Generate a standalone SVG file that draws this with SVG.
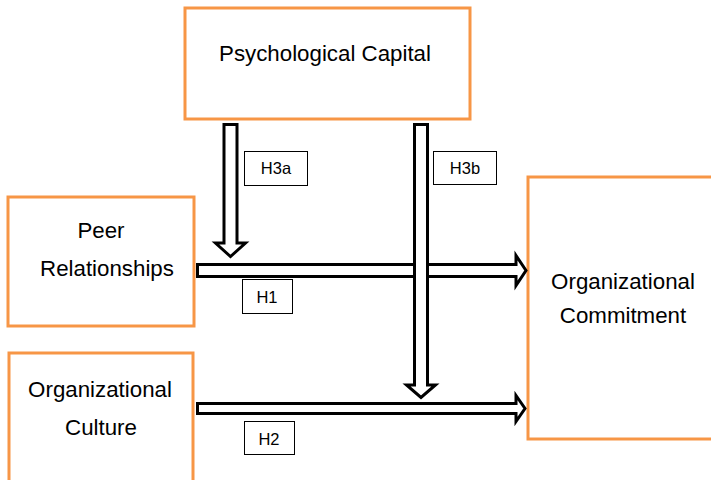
<svg xmlns="http://www.w3.org/2000/svg" width="711" height="480" viewBox="0 0 711 480">
<style>
.node{fill:#fff;stroke:#F79646;stroke-width:3}
.lbl{fill:#fff;stroke:#000;stroke-width:1}
.arr{fill:#fff;stroke:#000;stroke-width:3;stroke-linejoin:miter}
text{font-family:"Liberation Sans",Arial,sans-serif;fill:#000;text-anchor:middle}
.big{font-size:22.3px}
.sm{font-size:16.5px}
</style>
<rect width="711" height="480" fill="#fff"/>
<g id="psychological-capital">
<rect class="node" x="185" y="8" width="285" height="111"/>
<text class="big" x="325" y="61">Psychological Capital</text>
</g>
<g id="peer-relationships">
<rect class="node" x="8" y="197" width="186" height="129"/>
<text class="big" x="101" y="238">Peer</text>
<text class="big" x="107" y="276">Relationships</text>
</g>
<g id="organizational-culture">
<rect class="node" x="9" y="353" width="184" height="140"/>
<text class="big" x="100" y="397">Organizational</text>
<text class="big" x="101" y="435">Culture</text>
</g>
<g id="organizational-commitment">
<rect class="node" x="528" y="177" width="190" height="262"/>
<text class="big" x="623" y="289">Organizational</text>
<text class="big" x="623" y="323">Commitment</text>
</g>
<g id="connectors">
<polygon class="arr" points="197.5,264.5 516,264.5 516,255.5 526,270.5 516,285.5 516,276.5 197.5,276.5"/>
<polygon class="arr" points="197.5,403.5 516,403.5 516,395.5 525,408.5 516,421.5 516,413.5 197.5,413.5"/>
<polygon class="arr" points="224,124.5 237,124.5 237,243 245.5,243 230.5,256.5 215.5,243 224,243"/>
<polygon class="arr" points="414.5,124.5 427.5,124.5 427.5,385 435.5,385 421,397.5 406.5,385 414.5,385"/>
</g>
<g id="label-h3a">
<rect class="lbl" x="244.5" y="151.5" width="63" height="34"/>
<text class="sm" x="276" y="174">H3a</text>
</g>
<g id="label-h3b">
<rect class="lbl" x="433.5" y="151.5" width="63" height="33"/>
<text class="sm" x="465" y="174">H3b</text>
</g>
<g id="label-h1">
<rect class="lbl" x="242.5" y="279.5" width="50" height="34"/>
<text class="sm" x="267" y="303">H1</text>
</g>
<g id="label-h2">
<rect class="lbl" x="244.5" y="421.5" width="50" height="33"/>
<text class="sm" x="269" y="445">H2</text>
</g>
</svg>
